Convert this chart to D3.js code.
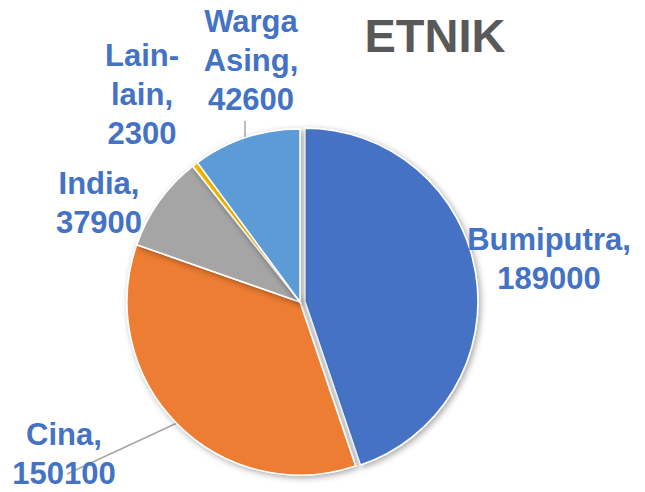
<!DOCTYPE html>
<html>
<head>
<meta charset="utf-8">
<script src="https://cdn.jsdelivr.net/npm/d3@7"></script>
<style>
  body { margin: 0; background: #fff; }
  text { font-family: "Liberation Sans", Arial, sans-serif; font-weight: bold; }
</style>
</head>
<body>
<svg width="645" height="492"></svg>
<script>
// data
var categories = ["Bumiputra", "Cina", "India", "Lain-lain", "Warga Asing"];
var values = [189000, 150100, 37900, 2300, 42600];
var colors = ["#4472C4", "#ED7D31", "#A5A5A5", "#FFC000", "#5B9BD5"];
// label text split across lines
var labelLines = [["Bumiputra,", "189000"], ["Cina,", "150100"], ["India,", "37900"],
                  ["Lain-", "lain,", "2300"], ["Warga", "Asing,", "42600"]];

var data = categories.map(function(c, i) { return {name: c, value: values[i]}; });

var cx = 300, cy = 302, r = 173;
// label anchors (centre x, first baseline y)
var labelPos = [[549, 250], [64, 445], [99, 194], [142, 66], [251, 32]];
var lineH = 39;

var svg = d3.select("svg");

var defs = svg.append("defs");
var f = defs.append("filter").attr("id", "shadow")
    .attr("x", "-20%").attr("y", "-20%").attr("width", "140%").attr("height", "140%");
f.append("feDropShadow").attr("dx", 2).attr("dy", 2).attr("stdDeviation", 3)
    .attr("flood-color", "#000").attr("flood-opacity", 0.35);

var pie = d3.pie().sort(null).value(function(d) { return d.value; });
var arc = d3.arc().innerRadius(0).outerRadius(r);
var arcs = pie(data);

var g = svg.append("g").attr("transform", "translate(" + cx + "," + cy + ")");

// leader lines
g.append("line").attr("x1", 67 - cx).attr("y1", 474 - cy)
    .attr("x2", 177 - cx).attr("y2", 423 - cy)
    .attr("stroke", "#A6A6A6").attr("stroke-width", 1.5);
g.append("line").attr("x1", 245 - cx).attr("y1", 121 - cy)
    .attr("x2", 245 - cx).attr("y2", 138 - cy)
    .attr("stroke", "#A6A6A6").attr("stroke-width", 1.5);

g.selectAll("path").data(arcs).enter().append("path")
    .attr("d", arc)
    .attr("fill", function(d, i) { return colors[i]; })
    .attr("stroke", "#fff").attr("stroke-width", 1.5)
    .attr("filter", "url(#shadow)")
    .attr("transform", function(d, i) {
      if (i !== 0) return null;
      // Bumiputra slice pulled out a little
      var a = (d.startAngle + d.endAngle) / 2, off = 5;
      return "translate(" + (Math.sin(a) * off) + "," + (-Math.cos(a) * off) + ")";
    });

// data labels
arcs.forEach(function(d, i) {
  var t = svg.append("text")
      .attr("text-anchor", "middle")
      .attr("fill", "#4472C4")
      .attr("font-size", 31);
  labelLines[i].forEach(function(s, k) {
    t.append("tspan").attr("x", labelPos[i][0]).attr("y", labelPos[i][1] + k * lineH).text(s);
  });
});

// title
svg.append("text").attr("x", 435).attr("y", 52)
    .attr("text-anchor", "middle").attr("fill", "#595959")
    .attr("font-size", 47).text("ETNIK");
</script>
</body>
</html>
